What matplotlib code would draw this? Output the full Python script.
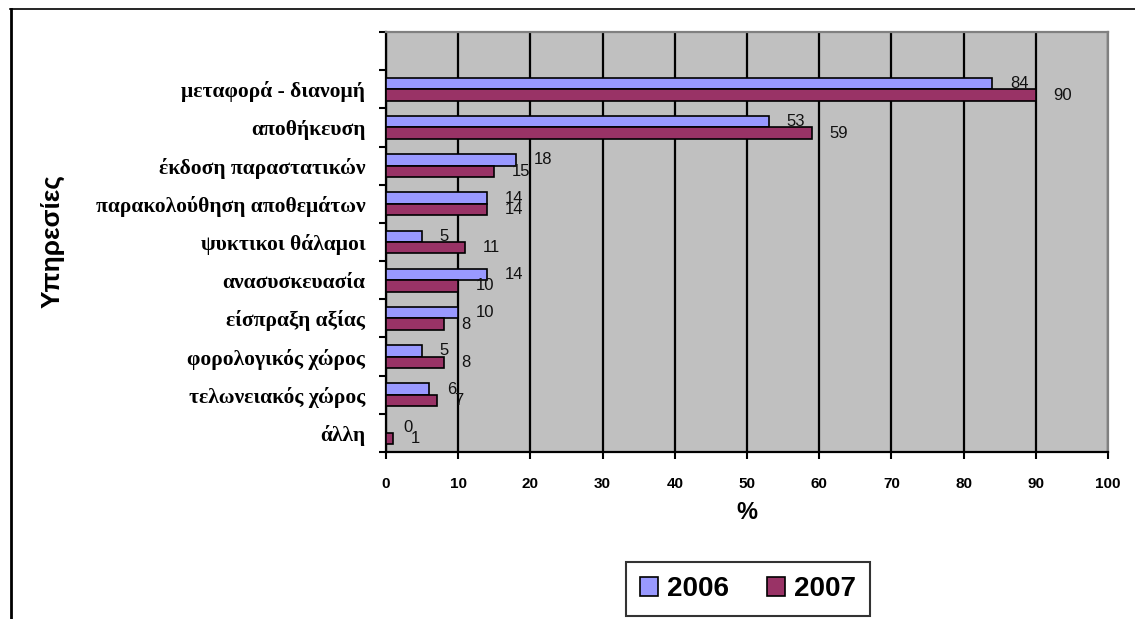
import matplotlib
matplotlib.use("Agg")
import matplotlib.pyplot as plt
from matplotlib.lines import Line2D
from matplotlib.patches import Patch
import numpy as np

categories = ["άλλη", "τελωνειακός χώρος", "φορολογικός χώρος", "είσπραξη αξίας",
              "ανασυσκευασία", "ψυκτικοι θάλαμοι", "παρακολούθηση αποθεμάτων",
              "έκδοση παραστατικών", "αποθήκευση", "μεταφορά - διανομή", ""]
values_2006 = [0, 6, 5, 10, 14, 5, 14, 18, 53, 84]
values_2007 = [1, 7, 8, 8, 10, 11, 14, 15, 59, 90]
series_labels = ["2006", "2007"]
x_ticks = [0, 10, 20, 30, 40, 50, 60, 70, 80, 90, 100]

C2006 = "#9999FF"
C2007 = "#993366"

fig = plt.figure(figsize=(11.35, 6.19), dpi=100)
ax = fig.add_axes([386/1135, 1-452/619, (1108-386)/1135, (452-32)/619])
ax.set_facecolor("#C0C0C0")

n = len(values_2006)
pos = np.arange(n)
h = 0.30
b1 = ax.barh(pos + h/2, values_2006, height=h, color=C2006, edgecolor="black", linewidth=1.2, zorder=3)
b2 = ax.barh(pos - h/2, values_2007, height=h, color=C2007, edgecolor="black", linewidth=1.2, zorder=3)

for bars, vals in ((b1, values_2006), (b2, values_2007)):
    for rect, v in zip(bars, vals):
        ax.annotate(str(v), (v, rect.get_y() + rect.get_height()/2),
                    xytext=(12.5, 0), textcoords="offset points",
                    ha="left", va="center", fontsize=12,
                    family="Liberation Sans", color="#111111", zorder=5)

ax.set_xlim(0, 100)
ax.set_ylim(-0.5, len(categories) - 0.5)
ax.set_xticks(x_ticks)
ax.set_xticklabels([str(t) for t in x_ticks], fontsize=11, fontweight="bold", family="Liberation Sans")
ax.set_yticks(np.arange(-0.5, len(categories)))
ax.set_yticklabels([])
ax.set_yticks(np.arange(len(categories)), minor=True)
ax.set_yticklabels(categories, minor=True, fontsize=15.5, fontweight="bold", family="Liberation Serif")
ax.tick_params(axis="y", which="minor", length=0, pad=15)
ax.tick_params(axis="y", which="major", length=5, width=1.5, direction="out")
ax.tick_params(axis="x", length=5, width=1.5, direction="out", pad=13)

ax.grid(axis="x", color="black", linewidth=1.6, zorder=1)
ax.set_axisbelow(True)
for s in ("left", "bottom"):
    ax.spines[s].set_color("black")
    ax.spines[s].set_linewidth(1.6)
for s in ("top", "right"):
    ax.spines[s].set_color("#808080")
    ax.spines[s].set_linewidth(1.6)

ax.set_xlabel("%", fontsize=17, fontweight="bold", family="Liberation Sans", labelpad=7)
fig.text(53/1135, 1 - 241/619, "Υπηρεσίες", rotation=90, ha="center", va="center",
         fontsize=19, fontweight="bold", family="Liberation Sans")

handles = [Patch(facecolor=C2006, edgecolor="black", linewidth=1.2),
           Patch(facecolor=C2007, edgecolor="black", linewidth=1.2)]
leg = fig.legend(handles, series_labels, loc="center", bbox_to_anchor=(748/1135, 1 - 589/619),
                 ncol=2, frameon=True, fancybox=False, edgecolor="black",
                 prop={"family": "Liberation Sans", "weight": "bold", "size": 20},
                 handlelength=0.65, handleheight=0.65, handletextpad=0.3, columnspacing=1.4,
                 borderpad=0.5, borderaxespad=0)
leg.get_frame().set_linewidth(1.5)

fig.add_artist(Line2D([10/1135, 1], [1 - 9/619, 1 - 9/619], color="black", linewidth=1.2))
fig.add_artist(Line2D([11/1135, 11/1135], [0, 1 - 9/619], color="black", linewidth=2.0))

fig.savefig("out.png", dpi=100)
